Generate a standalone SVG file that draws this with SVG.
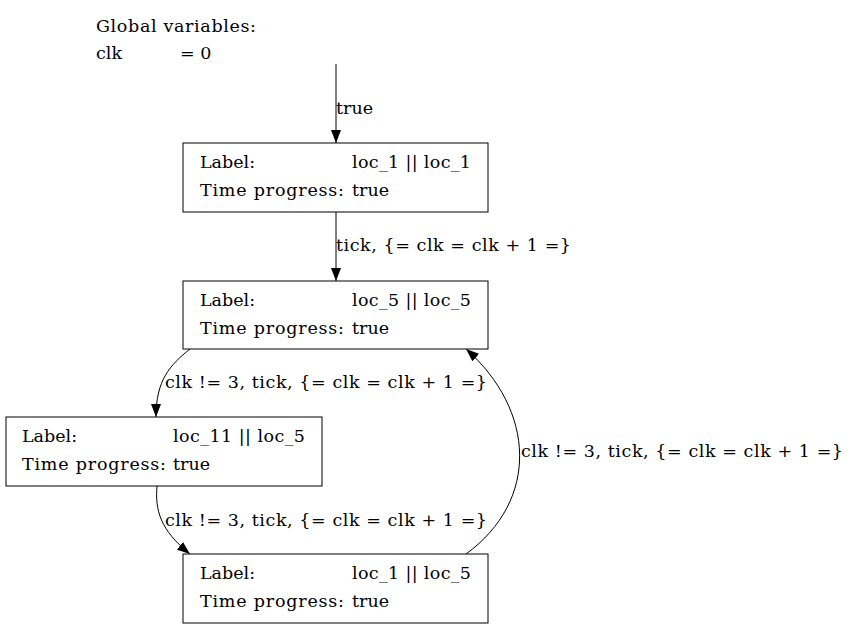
<svg xmlns="http://www.w3.org/2000/svg" width="852" height="629" viewBox="0 0 852 629">
<style>
text{font-family:"DejaVu Serif","Liberation Serif",serif;font-size:17.5px;fill:#000}
.box{fill:#fff;stroke:#000;stroke-width:1}
.edge{fill:none;stroke:#000;stroke-width:1}
</style>
<defs>
<marker id="ah" viewBox="0 0 13 10" refX="13" refY="5" markerWidth="13" markerHeight="10" markerUnits="userSpaceOnUse" orient="auto">
<path d="M0,0 L13,5 L0,10 z" fill="#000"/>
</marker>
</defs>
<rect width="852" height="629" fill="#fff"/>
<g id="globals">
<text x="96" y="32" textLength="160">Global variables:</text>
<text x="96" y="59">clk</text>
<text x="180" y="59">= 0</text>
</g>
<g id="connectors">
<path class="edge" d="M336,64 L336,143" marker-end="url(#ah)"/>
<text x="336" y="114">true</text>
<path class="edge" d="M336,212 L336,281" marker-end="url(#ah)"/>
<text x="336" y="251" textLength="235">tick, {= clk = clk + 1 =}</text>
<path class="edge" d="M190,349 C170,365 156,380 156,417" marker-end="url(#ah)"/>
<text x="165" y="388" textLength="322">clk != 3, tick, {= clk = clk + 1 =}</text>
<path class="edge" d="M157,486 C155,510 160,530 190,554" marker-end="url(#ah)"/>
<text x="165" y="526" textLength="322">clk != 3, tick, {= clk = clk + 1 =}</text>
<path class="edge" d="M466,554 C540,500 535,410 466,349" marker-end="url(#ah)"/>
<text x="521" y="457" textLength="322">clk != 3, tick, {= clk = clk + 1 =}</text>
</g>
<g id="node1">
<rect class="box" x="183" y="143" width="305" height="69"/>
<text x="200" y="168">Label:</text>
<text x="352" y="168" textLength="119">loc_1 || loc_1</text>
<text x="200" y="196" textLength="144">Time progress:</text>
<text x="352" y="196">true</text>
</g>
<g id="node2">
<rect class="box" x="183" y="281" width="305" height="68"/>
<text x="200" y="306">Label:</text>
<text x="352" y="306" textLength="119">loc_5 || loc_5</text>
<text x="200" y="334" textLength="144">Time progress:</text>
<text x="352" y="334">true</text>
</g>
<g id="node3">
<rect class="box" x="6" y="417" width="316" height="69"/>
<text x="22" y="442">Label:</text>
<text x="173" y="442" textLength="132">loc_11 || loc_5</text>
<text x="22" y="470" textLength="144">Time progress:</text>
<text x="173" y="470">true</text>
</g>
<g id="node4">
<rect class="box" x="183" y="554" width="305" height="69"/>
<text x="200" y="579">Label:</text>
<text x="352" y="579" textLength="119">loc_1 || loc_5</text>
<text x="200" y="607" textLength="144">Time progress:</text>
<text x="352" y="607">true</text>
</g>
</svg>
